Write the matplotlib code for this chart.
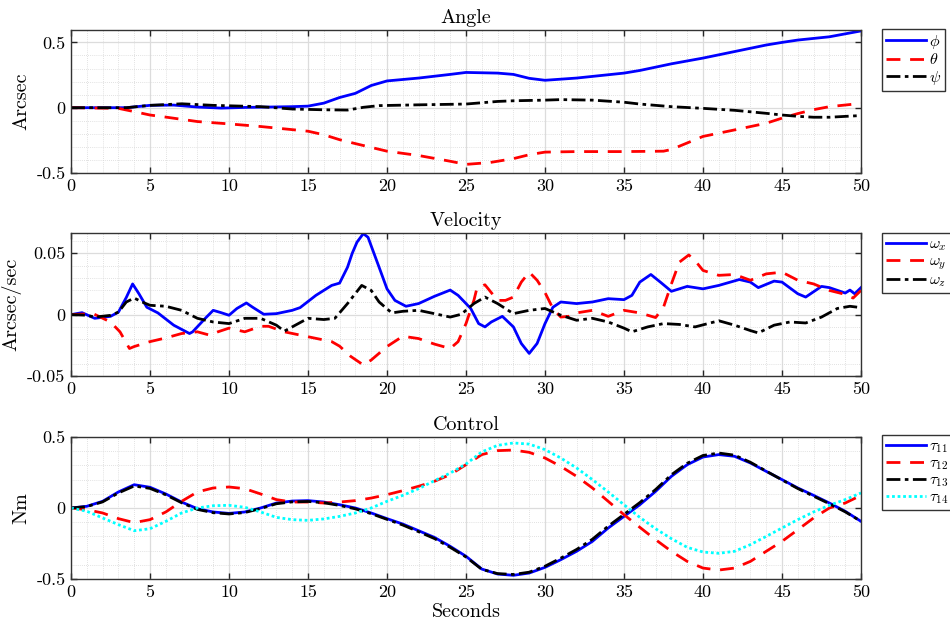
import numpy as np
import matplotlib
matplotlib.use("Agg")
import matplotlib.pyplot as plt
from matplotlib.ticker import FixedLocator, FixedFormatter, MultipleLocator

plt.rcParams['font.family'] = 'serif'
plt.rcParams['font.serif'] = ['cmr10']
plt.rcParams['mathtext.fontset'] = 'cm'
plt.rcParams['axes.unicode_minus'] = False

# ---------------- Angle ----------------
phi_t = [0, 3.5, 5, 6.5, 8, 9.5, 11, 12.5, 14, 15, 16, 17, 18, 19, 20, 22, 24, 25, 27, 28, 29, 30, 32, 35, 36, 38, 40, 42, 44, 45, 46, 48, 50]
phi_v = [0, 0, 0.018, 0.02, 0.005, -0.003, 0.002, 0.005, 0.008, 0.012, 0.035, 0.078, 0.11, 0.17, 0.205, 0.227, 0.255, 0.27, 0.265, 0.255, 0.225, 0.21, 0.227, 0.265, 0.285, 0.336, 0.38, 0.43, 0.48, 0.5, 0.518, 0.543, 0.588]

theta_t = [0, 3, 4, 5, 6, 8, 10, 12, 15, 16, 17, 18, 20, 22, 24, 25, 26.5, 28, 29, 30, 32, 35, 37.5, 38, 39, 40, 42, 44, 45, 46, 47, 48, 50]
theta_v = [0, -0.005, -0.03, -0.056, -0.072, -0.106, -0.124, -0.144, -0.18, -0.207, -0.245, -0.275, -0.333, -0.366, -0.41, -0.434, -0.42, -0.39, -0.36, -0.34, -0.336, -0.336, -0.333, -0.32, -0.27, -0.22, -0.17, -0.119, -0.08, -0.045, -0.015, 0.008, 0.033]

psi_t = [0, 3.5, 5, 7, 9, 12, 14, 16, 17.5, 18.5, 19.5, 22, 25, 27, 28, 30, 31, 33, 35, 36, 38, 40, 42, 44, 45, 46, 47, 48, 50]
psi_v = [0, 0, 0.018, 0.03, 0.018, 0.008, -0.01, -0.016, -0.018, 0.003, 0.016, 0.022, 0.028, 0.048, 0.053, 0.058, 0.062, 0.058, 0.042, 0.028, 0.008, -0.005, -0.02, -0.043, -0.056, -0.066, -0.073, -0.073, -0.06]

# ---------------- Velocity ----------------
wx_t = [0, 0.7, 1.5, 2.5, 3, 3.5, 3.9, 4.3, 4.8, 5.5, 6.5, 7.5, 7.7, 8.5, 9, 9.5, 10, 10.5, 11.1, 11.5, 12.2, 13, 14, 14.5, 15.5, 16.5, 17, 17.5, 17.8, 18.1, 18.5, 18.8, 19, 19.5, 20, 20.5, 21.2, 22, 23, 24, 24.5, 25.3, 25.8, 26.2, 26.6, 27.3, 28, 28.5, 29, 29.5, 30, 30.5, 31, 32, 33, 34, 35, 35.5, 36, 36.7, 37.3, 38, 39, 40, 41, 42.3, 43, 43.5, 44.5, 45, 46, 46.5, 47.5, 48, 49, 49.3, 49.6, 50]
wx_v = [0, 0.0016, -0.003, -0.0014, 0.002, 0.014, 0.025, 0.017, 0.006, 0.0014, -0.0086, -0.0154, -0.014, -0.003, 0.0035, 0.0016, -0.0005, 0.005, 0.0095, 0.006, 0.0003, 0.0008, 0.0035, 0.0057, 0.0157, 0.0238, 0.0257, 0.0386, 0.05, 0.059, 0.066, 0.063, 0.056, 0.0386, 0.021, 0.0116, 0.0068, 0.009, 0.0149, 0.020, 0.0157, 0.005, -0.0073, -0.01, -0.006, -0.0014, -0.01, -0.0235, -0.0316, -0.0235, -0.0073, 0.006, 0.0103, 0.009, 0.0103, 0.013, 0.0122, 0.0157, 0.0265, 0.0327, 0.0265, 0.019, 0.023, 0.021, 0.0238, 0.0286, 0.0265, 0.022, 0.0273, 0.0265, 0.017, 0.0143, 0.023, 0.022, 0.0176, 0.020, 0.017, 0.022]

wy_t = [0, 1.4, 2.5, 3.1, 3.7, 4, 5, 6, 7, 8, 8.8, 9.3, 10, 11, 12, 12.5, 13.5, 15, 16.5, 17, 17.7, 18.5, 19, 20, 21, 22, 23, 24, 24.5, 25, 25.5, 25.7, 26.2, 27, 27.5, 28, 28.5, 29, 29.5, 30, 30.5, 31, 31.5, 32, 33, 34, 35, 36, 37, 37.5, 38, 38.5, 39.1, 39.5, 40, 41, 42, 43, 44, 45, 46, 47, 48, 49, 49.5, 50]
wy_v = [0, 0.0008, -0.006, -0.014, -0.0276, -0.026, -0.022, -0.019, -0.0154, -0.014, -0.0168, -0.014, -0.011, -0.014, -0.0095, -0.0095, -0.014, -0.018, -0.022, -0.0257, -0.034, -0.041, -0.037, -0.026, -0.0176, -0.0195, -0.024, -0.0276, -0.022, -0.0073, 0.0116, 0.022, 0.0243, 0.0116, 0.0116, 0.0143, 0.0265, 0.0346, 0.028, 0.018, 0.005, -0.002, -0.0014, 0.0014, 0.0035, -0.0014, 0.0035, 0.0014, -0.0024, 0.006, 0.025, 0.0427, 0.0486, 0.044, 0.036, 0.032, 0.0327, 0.028, 0.0332, 0.0346, 0.028, 0.025, 0.0197, 0.0165, 0.0135, 0.0197]

wz_t = [0, 1, 1.5, 2.5, 3, 3.5, 4, 4.5, 5, 6, 7, 8, 9, 10, 11, 12, 13, 13.5, 14, 15, 16, 16.7, 17.5, 18.4, 19, 19.5, 20.3, 21, 22, 23, 24, 24.7, 25.5, 26.2, 27, 28, 29, 30, 31, 32, 33, 34, 35, 35.5, 36.5, 37.5, 38.5, 39.5, 41, 42, 43, 43.5, 44.5, 45.5, 46.5, 47.5, 48.5, 49.3, 50]
wz_v = [0, -0.0005, -0.002, -0.0006, 0.002, 0.0103, 0.0135, 0.0103, 0.0076, 0.0068, 0.0035, -0.003, -0.006, -0.0073, -0.003, -0.003, -0.0086, -0.0135, -0.01, -0.003, -0.004, -0.003, 0.009, 0.0238, 0.0197, 0.0103, 0.0014, 0.0027, 0.0035, 0.0008, -0.002, 0.0003, 0.009, 0.0143, 0.009, 0.0008, 0.0035, 0.005, -0.0005, -0.0046, -0.003, -0.006, -0.011, -0.014, -0.01, -0.0073, -0.008, -0.01, -0.005, -0.0086, -0.013, -0.0149, -0.0086, -0.006, -0.0068, -0.002, 0.005, 0.0068, 0.0057]

# ---------------- Control ----------------
ctrl_t = [0, 1, 2, 3, 4, 5, 6, 7, 8, 9, 10, 11, 12, 13, 14, 15, 16, 17, 18, 19, 20, 21, 22, 23, 24, 25, 26, 27, 28, 29, 30, 31, 32, 33, 34, 35, 36, 37, 38, 39, 40, 41, 42, 43, 44, 45, 46, 47, 48, 49, 50]
tau11 = [0, 0.012, 0.047, 0.113, 0.164, 0.146, 0.099, 0.042, -0.005, -0.028, -0.038, -0.028, 0, 0.035, 0.049, 0.052, 0.042, 0.023, 0, -0.035, -0.075, -0.113, -0.16, -0.207, -0.27, -0.34, -0.43, -0.465, -0.474, -0.458, -0.418, -0.364, -0.305, -0.235, -0.141, -0.059, 0.023, 0.117, 0.223, 0.305, 0.359, 0.376, 0.364, 0.317, 0.258, 0.2, 0.141, 0.089, 0.035, -0.023, -0.094]
tau12 = [0, -0.012, -0.035, -0.075, -0.103, -0.082, -0.028, 0.047, 0.113, 0.141, 0.148, 0.136, 0.099, 0.059, 0.042, 0.042, 0.035, 0.042, 0.052, 0.07, 0.094, 0.122, 0.153, 0.188, 0.235, 0.305, 0.376, 0.404, 0.408, 0.392, 0.352, 0.293, 0.223, 0.141, 0.047, -0.047, -0.136, -0.223, -0.305, -0.376, -0.423, -0.437, -0.423, -0.376, -0.305, -0.235, -0.153, -0.07, 0, 0.035, 0.089]
tau13 = [0, 0.01, 0.043, 0.106, 0.155, 0.138, 0.093, 0.037, -0.01, -0.033, -0.042, -0.032, -0.004, 0.03, 0.043, 0.046, 0.037, 0.018, -0.006, -0.04, -0.08, -0.12, -0.167, -0.215, -0.277, -0.345, -0.432, -0.462, -0.468, -0.452, -0.41, -0.353, -0.292, -0.22, -0.128, -0.045, 0.038, 0.13, 0.234, 0.315, 0.37, 0.387, 0.372, 0.322, 0.26, 0.198, 0.137, 0.083, 0.03, -0.027, -0.094]
tau14 = [0, -0.023, -0.07, -0.117, -0.16, -0.146, -0.094, -0.035, 0, 0.016, 0.019, 0.005, -0.028, -0.066, -0.082, -0.087, -0.077, -0.059, -0.035, 0, 0.047, 0.089, 0.136, 0.192, 0.246, 0.31, 0.395, 0.441, 0.458, 0.45, 0.411, 0.352, 0.282, 0.2, 0.113, 0.023, -0.066, -0.146, -0.216, -0.277, -0.31, -0.319, -0.305, -0.258, -0.2, -0.141, -0.082, -0.028, 0.019, 0.059, 0.106]

x_ticks = [0, 5, 10, 15, 20, 25, 30, 35, 40, 45, 50]
angle_yticks = [-0.5, 0, 0.5]
angle_ylabels = ['-0.5', '0', '0.5']
vel_yticks = [-0.05, 0, 0.05]
vel_ylabels = ['-0.05', '0', '0.05']
ctrl_yticks = [-0.5, 0, 0.5]
ctrl_ylabels = ['-0.5', '0', '0.5']

W, H = 950, 632
fig = plt.figure(figsize=(W / 100, H / 100), dpi=100)

def fpos(l, t, r, b):
    return [l / W, 1 - b / H, (r - l) / W, (b - t) / H]

LW = 2.0
dash = (0, (5, 3.5))
dashdot = (0, (5, 1.6, 1.3, 1.6))
dotted = (0, (1, 1))

def style(ax, yticks, ylabels, ylim, yminor, title, ylabel):
    ax.set_xlim(0, 50)
    ax.set_ylim(*ylim)
    ax.xaxis.set_major_locator(FixedLocator(x_ticks))
    ax.xaxis.set_major_formatter(FixedFormatter([str(v) for v in x_ticks]))
    ax.yaxis.set_major_locator(FixedLocator(yticks))
    ax.yaxis.set_major_formatter(FixedFormatter(ylabels))
    ax.xaxis.set_minor_locator(MultipleLocator(1))
    ax.yaxis.set_minor_locator(MultipleLocator(yminor))
    ax.grid(which='major', color='#dcdcdc', linewidth=0.9, linestyle='-')
    ax.grid(which='minor', color='#d8d8d8', linewidth=0.6, linestyle=(0, (1, 1.5)))
    ax.set_axisbelow(True)
    ax.tick_params(which='major', direction='in', length=4, width=1.0, top=True, right=True,
                   labelsize=13, color='#262626', pad=4)
    ax.tick_params(which='minor', length=0, top=True, right=True)
    for s in ax.spines.values():
        s.set_color('#333333')
        s.set_linewidth(1.0)
    ax.set_title(title, fontsize=14.5, pad=5)
    ax.set_ylabel(ylabel, fontsize=14.5, labelpad=4)

def legend(ax, top_px):
    leg = ax.legend(loc='upper left', bbox_to_anchor=(882 / W, 1 - top_px / H),
                    bbox_transform=fig.transFigure, fontsize=11.5, frameon=True,
                    fancybox=False, edgecolor='#333333', framealpha=1,
                    handlelength=2.5, handletextpad=0.2, borderpad=0.25,
                    labelspacing=0.08, borderaxespad=0)
    leg.get_frame().set_linewidth(1.0)

# Angle
ax1 = fig.add_axes(fpos(71, 30, 861, 173))
ax1.plot(phi_t, phi_v, color='#0000ff', lw=LW, label=r'$\phi$')
ax1.plot(theta_t, theta_v, color='#ff0000', lw=LW, ls=dash, label=r'$\theta$')
ax1.plot(psi_t, psi_v, color='black', lw=LW, ls=dashdot, label=r'$\psi$')
style(ax1, angle_yticks, angle_ylabels, (-0.5, 0.595), 0.1, 'Angle', 'Arcsec')
legend(ax1, 29)

# Velocity
ax2 = fig.add_axes(fpos(71, 233, 861, 376))
ax2.plot(wx_t, wx_v, color='#0000ff', lw=LW, label=r'$\omega_x$')
ax2.plot(wy_t, wy_v, color='#ff0000', lw=LW, ls=dash, label=r'$\omega_y$')
ax2.plot(wz_t, wz_v, color='black', lw=LW, ls=dashdot, label=r'$\omega_z$')
style(ax2, vel_yticks, vel_ylabels, (-0.05, 0.0665), 0.01, 'Velocity', 'Arcsec/sec')
legend(ax2, 233)

# Control
ax3 = fig.add_axes(fpos(71, 437, 861, 579))
ax3.plot(ctrl_t, tau11, color='#0000ff', lw=LW, label=r'$\tau_{11}$')
ax3.plot(ctrl_t, tau12, color='#ff0000', lw=LW, ls=dash, label=r'$\tau_{12}$')
ax3.plot(ctrl_t, tau13, color='black', lw=LW, ls=dashdot, label=r'$\tau_{13}$')
ax3.plot(ctrl_t, tau14, color='#00ffff', lw=LW, ls=dotted, label=r'$\tau_{14}$')
style(ax3, ctrl_yticks, ctrl_ylabels, (-0.5, 0.5), 0.1, 'Control', 'Nm')
ax3.set_xlabel('Seconds', fontsize=14.5, labelpad=2)
legend(ax3, 435)

fig.savefig('out.png', dpi=100)
